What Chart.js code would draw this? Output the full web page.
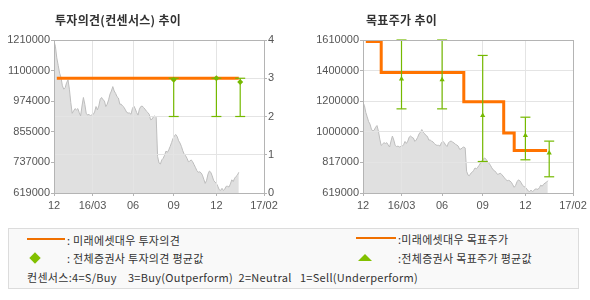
<!DOCTYPE html>
<html>
<head>
<meta charset="utf-8">
<script src="https://cdn.jsdelivr.net/npm/chart.js@4/dist/chart.umd.min.js"></script>
<style>
  html, body { margin: 0; padding: 0; background: #fff; }
  #wrap { position: relative; width: 590px; height: 300px; overflow: hidden; font-family: "Noto Sans CJK KR", sans-serif; }
  canvas { position: absolute; top: 0; }
  #cvOpinion { left: 0; }
  #cvTarget { left: 300px; }
  .title { position: absolute; top: 12px; font-size: 12px; font-weight: bold; color: #333; line-height: 16px; white-space: nowrap; letter-spacing: 0.3px; }
  .legend { position: absolute; left: 8px; top: 228px; width: 569px; height: 59px; border: 1px solid #dcdcdc; background: #f9f9f9; }
  .lg { position: absolute; font-size: 11px; color: #333; line-height: 14px; white-space: pre; letter-spacing: 0.3px; }
  .lline { position: absolute; height: 2px; background: #f07000; }
  .diamond { position: absolute; width: 8px; height: 8px; background: #82c000; transform: rotate(45deg); }
  .tri { position: absolute; width: 0; height: 0; border-left: 7px solid transparent; border-right: 7px solid transparent; border-bottom: 7px solid #82c000; }
</style>
</head>
<body>
<div id="wrap">
  <canvas id="cvOpinion" width="300" height="220"></canvas>
  <canvas id="cvTarget" width="290" height="220"></canvas>
  <div class="title" style="left:55px">투자의견(컨센서스) 추이</div>
  <div class="title" style="left:366px">목표주가 추이</div>
  <div class="legend">
    <div class="lline" style="left:18px;top:9px;width:38px"></div>
    <div class="lg" style="left:58px;top:4px">: 미래에셋대우 투자의견</div>
    <div class="lline" style="left:347px;top:8px;width:40px"></div>
    <div class="lg" style="left:389px;top:3px">:미래에셋대우 목표주가</div>
    <div class="diamond" style="left:22px;top:25px"></div>
    <div class="lg" style="left:58px;top:22px">: 전체증권사 투자의견 평균값</div>
    <div class="tri" style="left:349px;top:25px"></div>
    <div class="lg" style="left:389px;top:22px">:전체증권사 목표주가 평균값</div>
    <div class="lg" style="left:18px;top:41px">컨센서스:4=S/Buy    3=Buy(Outperform)  2=Neutral   1=Sell(Underperform)</div>
  </div>
</div>
<script>
// ---- time axis (trading-day index from Dec 2015) ----
const xTickDays   = [0, 55, 113, 171, 232, 300];
const xTickLabels = ['12', '16/03', '06', '09', '12', '17/02'];

// ---- daily close, one value every 2 trading days starting at day 0 ----
const priceStartDay = 0;
const priceDayStep = 2;
const closePrices = [
  1205000, 1186000, 1141000, 1112000, 1082000, 1065000, 1033000, 1020000, 1026000, 1045000,
  1056000, 1020000, 968000, 927000, 936000, 945000, 940000, 945000, 930000, 917000,
  955000, 988000, 962000, 927000, 920000, 923000, 917000, 921000, 922000, 932000,
  953000, 940000, 955000, 981000, 988000, 979000, 975000, 953000, 962000, 979000,
  1001000, 1013000, 1030000, 1013000, 1004000, 991000, 986000, 962000, 962000, 955000,
  950000, 940000, 930000, 928000, 928000, 923000, 945000, 955000, 945000, 930000,
  920000, 943000, 953000, 955000, 949000, 943000, 935000, 930000, 923000, 902000,
  904000, 913000, 917000, 911000, 760000, 735000, 731000, 747000, 753000, 765000,
  781000, 776000, 786000, 799000, 814000, 830000, 840000, 845000, 837000, 821000,
  812000, 799000, 782000, 769000, 763000, 753000, 740000, 742000, 747000, 740000,
  729000, 718000, 706000, 699000, 701000, 697000, 688000, 672000, 656000, 668000,
  692000, 704000, 699000, 685000, 668000, 661000, 656000, 645000, 632000, 629000,
  637000, 629000, 634000, 645000, 645000, 642000, 654000, 670000, 663000, 676000,
  683000, 688000, 699000
];

// ---- Mirae Asset Daewoo opinion (3 = Buy) ----
const opinionDays   = [4, 264];
const opinionValues = [3, 3];

// ---- all-broker opinion range and mean ----
const consDays = [171, 232, 266];
const consHigh = [3, 3, 3];
const consLow  = [2, 2, 2];
const consMean = [2.96, 3.0, 2.9];

// ---- Mirae Asset Daewoo target price (value changes on the given day) ----
const targetDays   = [4, 26, 144, 201, 216, 263];
const targetValues = [1600000, 1400000, 1210000, 1008000, 895000, 895000];

// ---- all-broker target price range and mean ----
const tgtDays = [55, 113, 171, 232, 266];
const tgtHigh = [1610000, 1610000, 1510000, 1110000, 955000];
const tgtLow  = [1164000, 1164000, 823000, 834000, 724000];
const tgtMean = [1358000, 1352000, 1121000, 991000, 878000];

// ---- axis tick labels ----
const opinionPriceTicks = [619000, 737000, 855000, 974000, 1100000, 1210000];
const targetPriceTicks  = [619000, 817000, 1000000, 1200000, 1400000, 1610000];
const opinionScaleTicks = [0, 1, 2, 3, 4];

// ---- styling ----
const ORANGE = '#ff7300';
const GREEN = '#75b900';
const GRID = '#e4e4e4';
const AXIS = '#b4b4b4';
const TICK_FONT = { family: 'Liberation Sans', size: 11 };
const TICK_COLOR = '#555';

const pricePoints = closePrices.map((p, i) => ({ x: priceStartDay + i * priceDayStep, y: p }));
const pairUp = (xs, ys) => xs.map((x, i) => ({ x, y: ys[i] }));
function whiskers(days, lows, highs) {
  const pts = [];
  days.forEach((d, i) => { pts.push({ x: d, y: lows[i] }, { x: d, y: highs[i] }, { x: d, y: null }); });
  return pts;
}

// Gridlines sit on top of the grey price area but under the other series.
const gridOverArea = {
  id: 'gridOverArea',
  afterDatasetDraw(chart, args) {
    if (args.index !== 0) return;
    Object.values(chart.scales).forEach(s => {
      const g = s.options.grid;
      if (g.display && g.drawOnChartArea) s.drawGrid(chart.chartArea);
    });
  }
};

function evenTicks(values) {
  return (scale) => {
    const lo = values[0], hi = values[values.length - 1];
    scale.ticks = values.map((_, i) => ({ value: lo + i * (hi - lo) / (values.length - 1) }));
  };
}

function xAxis() {
  return {
    type: 'linear', position: 'bottom', min: xTickDays[0], max: xTickDays[xTickDays.length - 1],
    afterFit: s => { s.height = 27; },
    afterBuildTicks: s => { s.ticks = xTickDays.map(v => ({ value: v })); },
    ticks: { callback: (v, i) => xTickLabels[i], font: TICK_FONT, color: TICK_COLOR, autoSkip: false, maxRotation: 0, padding: 3 },
    grid: { color: GRID, tickLength: 3, tickColor: AXIS },
    border: { color: AXIS, z: 1 }
  };
}
function frameAxis(position, sizeKey) {
  return {
    type: 'linear', position, display: true,
    afterFit: s => { s[sizeKey] = 0; },
    ticks: { display: false }, grid: { display: false },
    border: { color: AXIS, z: 1 }
  };
}
function priceAxis(values, width, onChart) {
  return {
    type: 'linear', position: 'left', min: values[0], max: values[values.length - 1],
    afterFit: s => { s.width = width; },
    afterBuildTicks: evenTicks(values),
    ticks: { callback: (v, i) => String(values[i]), font: TICK_FONT, color: TICK_COLOR, padding: 1 },
    grid: { color: GRID, drawOnChartArea: onChart, tickLength: 3, tickColor: AXIS },
    border: { color: AXIS, z: 1 }
  };
}

const areaDataset = {
  type: 'line', data: pricePoints, yAxisID: 'y', order: 3,
  borderColor: '#bdbdbd', borderWidth: 1, backgroundColor: '#e0e0e0',
  fill: 'start', pointRadius: 0, tension: 0
};

const common = {
  responsive: false, animation: false, events: [],
  plugins: { legend: { display: false }, tooltip: { enabled: false } }
};

new Chart(document.getElementById('cvOpinion'), {
  type: 'line',
  data: {
    datasets: [
      areaDataset,
      { type: 'line', data: pairUp(opinionDays, opinionValues), yAxisID: 'y1', order: 2,
        borderColor: ORANGE, borderWidth: 3, pointRadius: 0, fill: false },
      { type: 'line', data: whiskers(consDays, consLow, consHigh), yAxisID: 'y1', order: 1,
        borderColor: GREEN, borderWidth: 1.2, spanGaps: false, fill: false, clip: false,
        pointStyle: 'line', pointRadius: 5, pointBorderColor: GREEN, pointBorderWidth: 1.2 },
      { type: 'scatter', data: pairUp(consDays, consMean), yAxisID: 'y1', order: 0,
        pointStyle: 'rectRot', pointRadius: 3, backgroundColor: GREEN, borderColor: GREEN, borderWidth: 0 }
    ]
  },
  options: Object.assign({}, common, {
    layout: { padding: { top: 40, left: 0, right: 0, bottom: 0 } },
    scales: {
      x: xAxis(),
      xTop: frameAxis('top', 'height'),
      y: priceAxis(opinionPriceTicks, 54, false),
      y1: {
        type: 'linear', position: 'right', min: opinionScaleTicks[0], max: opinionScaleTicks[opinionScaleTicks.length - 1],
        afterFit: s => { s.width = 36; },
        afterBuildTicks: s => { s.ticks = opinionScaleTicks.map(v => ({ value: v })); },
        ticks: { font: TICK_FONT, color: TICK_COLOR, padding: 1 },
        grid: { color: GRID, tickLength: 3, tickColor: AXIS },
        border: { color: AXIS, z: 1 }
      }
    }
  }),
  plugins: [gridOverArea]
});

new Chart(document.getElementById('cvTarget'), {
  type: 'line',
  data: {
    datasets: [
      Object.assign({}, areaDataset),
      { type: 'line', data: pairUp(targetDays, targetValues), yAxisID: 'y', order: 2, stepped: true,
        borderColor: ORANGE, borderWidth: 3, pointRadius: 0, fill: false },
      { type: 'line', data: whiskers(tgtDays, tgtLow, tgtHigh), yAxisID: 'y', order: 1,
        borderColor: GREEN, borderWidth: 1.2, spanGaps: false, fill: false, clip: false,
        pointStyle: 'line', pointRadius: 5, pointBorderColor: GREEN, pointBorderWidth: 1.2 },
      { type: 'scatter', data: pairUp(tgtDays, tgtMean), yAxisID: 'y', order: 0,
        pointStyle: 'triangle', pointRadius: 3, backgroundColor: GREEN, borderColor: GREEN, borderWidth: 0 }
    ]
  },
  options: Object.assign({}, common, {
    layout: { padding: { top: 40, left: 0, right: 17, bottom: 0 } },
    scales: {
      x: xAxis(),
      xTop: frameAxis('top', 'height'),
      y: priceAxis(targetPriceTicks, 63, true),
      yRight: frameAxis('right', 'width')
    }
  }),
  plugins: [gridOverArea]
});
</script>
</body>
</html>
